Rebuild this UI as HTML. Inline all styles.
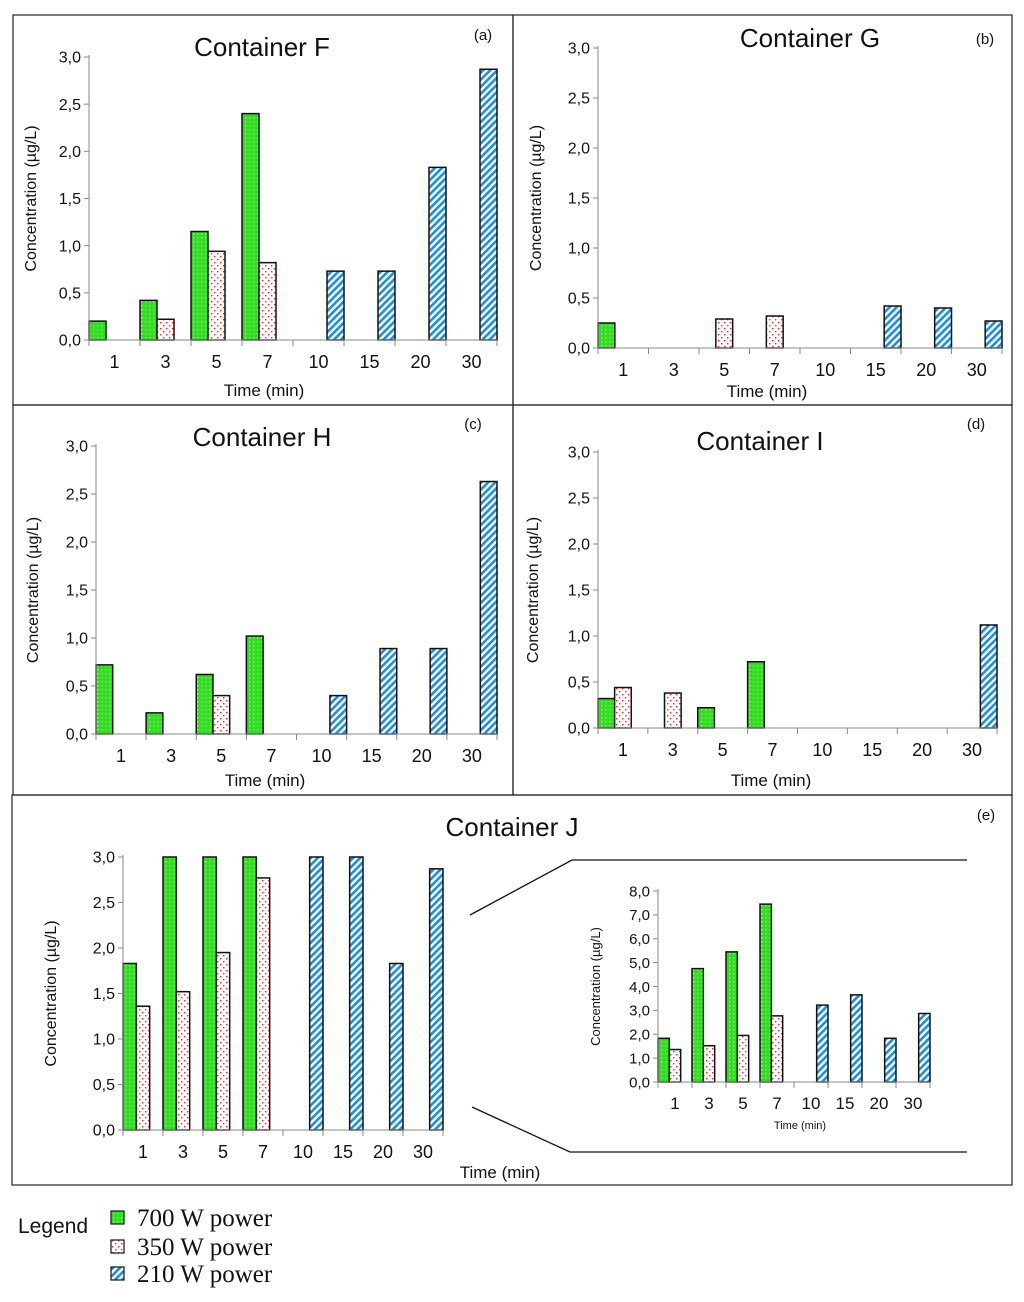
<!DOCTYPE html>
<html><head><meta charset="utf-8"><style>
body{margin:0;background:#fff;width:1024px;height:1297px;overflow:hidden}
svg text{font-family:"Liberation Sans",sans-serif;fill:#111}
</style></head><body>
<svg id="s" width="1024" height="1297" xmlns="http://www.w3.org/2000/svg">
<defs>
<pattern id="pg" width="4" height="4" patternUnits="userSpaceOnUse"><rect width="4" height="4" fill="#33dd22"/><rect x="1" y="1" width="1.3" height="1.3" fill="#c8ffb8"/></pattern>
<pattern id="pr" width="6" height="6" patternUnits="userSpaceOnUse"><rect width="6" height="6" fill="#fff"/><rect x="1" y="1" width="1.4" height="1.4" fill="#f22"/><rect x="4" y="4" width="1.4" height="1.4" fill="#f22"/></pattern>
<pattern id="pb" width="5" height="5" patternUnits="userSpaceOnUse" patternTransform="rotate(45)"><rect width="5" height="5" fill="#fff"/><rect width="2.6" height="5" fill="#1a8ee8"/></pattern>
</defs>
<g id="root"></g>
</svg>
<script>
const categories = ["1","3","5","7","10","15","20","30"];
const yTicks = ["0,0","0,5","1,0","1,5","2,0","2,5","3,0"];
const insetTicks = ["0,0","1,0","2,0","3,0","4,0","5,0","6,0","7,0","8,0"];
const seriesNames = ["700 W power","350 W power","210 W power"];

const fGreen = [0.2,0.42,1.15,2.4,0,0,0,0];
const fRed   = [0,0.22,0.94,0.82,0,0,0,0];
const fBlue  = [0,0,0,0,0.73,0.73,1.83,2.87];
const gGreen = [0.25,0,0,0,0,0,0,0];
const gRed   = [0,0,0.29,0.32,0,0,0,0];
const gBlue  = [0,0,0,0,0,0.42,0.4,0.27];
const hGreen = [0.72,0.22,0.62,1.02,0,0,0,0];
const hRed   = [0,0,0.4,0,0,0,0,0];
const hBlue  = [0,0,0,0,0.4,0.89,0.89,2.63];
const iGreen = [0.32,0,0.22,0.72,0,0,0,0];
const iRed   = [0.44,0.38,0,0,0,0,0,0];
const iBlue  = [0,0,0,0,0,0,0,1.12];
const jGreen = [1.83,4.75,5.45,7.45,0,0,0,0];
const jRed   = [1.36,1.52,1.95,2.77,0,0,0,0];
const jBlue  = [0,0,0,0,3.22,3.65,1.83,2.87];

const NS="http://www.w3.org/2000/svg";
const root=document.getElementById('root');
function mk(tag,attrs,parent,text){const e=document.createElementNS(NS,tag);for(const k in attrs)e.setAttribute(k,attrs[k]);if(text!==undefined)e.textContent=text;(parent||root).appendChild(e);return e;}

function panel(o){
  const g=mk('g',{});
  
  
  const yMax=o.yMax, n=categories.length;
  const cw=(o.x1-o.x0)/n;
  const X=i=>o.x0+i*cw;
  const Y=v=>o.y0-(Math.min(v,yMax)/yMax)*(o.y0-o.yTop);
  const fills=['url(#pg)','url(#pr)','url(#pb)'];
  const series=[o.green,o.red,o.blue];
  const bw=cw/3;
  series.forEach((arr,si)=>{
    arr.forEach((v,i)=>{
      if(v<=0)return;
      const r=mk('rect',{x:X(i)+si*bw,y:Y(v),width:bw,height:o.y0-Y(v),fill:fills[si],stroke:'#111','stroke-width':1.5},g);
      
      
    });
  });
  const ax=mk('line',{x1:o.x0,y1:o.yTop-2,x2:o.x0,y2:o.y0,stroke:'#888','stroke-width':1},g);
  
  
  const bx=mk('line',{x1:o.x0-5,y1:o.y0,x2:o.x1,y2:o.y0,stroke:'#888','stroke-width':1},g);
  
  
  const ticks=o.ticks;
  ticks.forEach((t,k)=>{
    const v=k*yMax/(ticks.length-1), y=Y(v);
    mk('line',{x1:o.x0-5,y1:y,x2:o.x0,y2:y,stroke:'#888'},g);
    const tx=mk('text',{x:o.x0-8,y:y+o.fs*0.35,'text-anchor':'end','font-size':o.fs},g,t);
    
    
  });
  for(let i=0;i<=n;i++){mk('line',{x1:X(i),y1:o.y0,x2:X(i),y2:o.y0+6,stroke:'#888'},g);}
  categories.forEach((c,i)=>{
    const tx=mk('text',{x:X(i)+cw/2,y:o.y0+o.fs+12,'text-anchor':'middle','font-size':o.fs+2},g,c);
    
    
  });
  const xt=mk('text',{x:o.xtX,y:o.xtY,'text-anchor':'middle','font-size':o.xtFs||17},g,'Time (min)');
  
  
  const yt=mk('text',{x:0,y:0,'text-anchor':'middle','font-size':o.ytFs||16,transform:`translate(${o.ytX},${(o.y0+o.yTop)/2}) rotate(-90)`},g,'Concentration (µg/L)');
  
  
  if(o.title){
    const tt=mk('text',{x:o.tX,y:o.tY,'text-anchor':'middle','font-size':26},g,o.title);
    
    
  }
  if(o.tag){
    const tg=mk('text',{x:o.tagX,y:o.tagY,'text-anchor':'middle','font-size':15},g,o.tag);
    
    
  }
}

[[13,15,500,390],[513,15,499,390],[13,405,500,390],[513,405,499,390],[12,795,1000,390]].forEach(b=>{
  const r=mk('rect',{x:b[0],y:b[1],width:b[2],height:b[3],fill:'none',stroke:'#222','stroke-width':1.2});
  
  
});

panel({name:'panel-container-f',green:fGreen,red:fRed,blue:fBlue,ticks:yTicks,yMax:3,x0:89,x1:497,y0:340,yTop:57,fs:16,xtX:264,xtY:396,ytX:36,title:'Container F',tX:262,tY:56,tag:'(a)',tagX:483,tagY:40});
panel({name:'panel-container-g',green:gGreen,red:gRed,blue:gBlue,ticks:yTicks,yMax:3,x0:598,x1:1002,y0:348,yTop:48,fs:16,xtX:767,xtY:397,ytX:541,title:'Container   G',tX:810,tY:47,tag:'(b)',tagX:985,tagY:44});
panel({name:'panel-container-h',green:hGreen,red:hRed,blue:hBlue,ticks:yTicks,yMax:3,x0:96,x1:497,y0:734,yTop:446,fs:16,xtX:265,xtY:786,ytX:38,title:'Container  H',tX:262,tY:446,tag:'(c)',tagX:473,tagY:429});
panel({name:'panel-container-i',green:iGreen,red:iRed,blue:iBlue,ticks:yTicks,yMax:3,x0:598,x1:997,y0:728,yTop:452,fs:16,xtX:771,xtY:786,ytX:538,title:'Container   I',tX:760,tY:450,tag:'(d)',tagX:976,tagY:429});
panel({name:'panel-container-j',green:jGreen,red:jRed,blue:jBlue,ticks:yTicks,yMax:3,x0:123,x1:443,y0:1130,yTop:857,fs:16,xtX:500,xtY:1178,ytX:56,title:'Container  J',tX:512,tY:836,tag:'(e)',tagX:986,tagY:820});
panel({name:'panel-container-j-inset',green:jGreen,red:jRed,blue:jBlue,ticks:insetTicks,yMax:8,x0:658,x1:930,y0:1082,yTop:891,fs:15,xtX:800,xtY:1129,xtFs:11,ytX:600,ytFs:13});

[[470,915,572,860,967,860],[472,1107,570,1152,967,1152]].forEach(p=>{
  const l=mk('polyline',{points:`${p[0]},${p[1]} ${p[2]},${p[3]} ${p[4]},${p[5]}`,fill:'none',stroke:'#111','stroke-width':1.3});
  
  
});

const lg=mk('g',{});


const lt=mk('text',{x:18,y:1233,'font-size':21},lg,'Legend');


const lfills=['url(#pg)','url(#pr)','url(#pb)'];
const ly=[1211,1240,1267];
seriesNames.forEach((nm,i)=>{
  const e=mk('g',{},lg);
  
  
  mk('rect',{x:111,y:ly[i],width:13,height:13,fill:lfills[i],stroke:'#222','stroke-width':1.3},e);
  mk('text',{x:137,y:ly[i]+15,'font-size':25,style:'font-family:"Liberation Serif",serif'},e,nm);
});
</script>
</body></html>
